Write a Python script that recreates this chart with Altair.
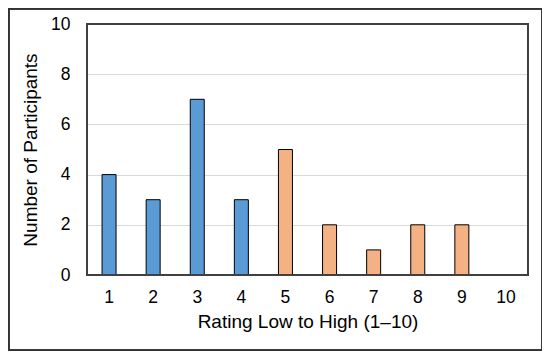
import altair as alt
import pandas as pd

ratings = ["1", "2", "3", "4", "5", "6", "7", "8", "9", "10"]
counts = [4, 3, 7, 3, 5, 2, 1, 2, 2, 0]
groups = ["low", "low", "low", "low", "high", "high", "high", "high", "high", "high"]

df = pd.DataFrame({"rating": ratings, "count": counts, "group": groups})

W, H = 441, 251
FONT = "Liberation Sans"

bars = alt.Chart(df).transform_filter("datum.count > 0").mark_bar(
    size=14, stroke="#000000", strokeWidth=1
).encode(
    x=alt.X("rating:O", sort=ratings, title="Rating Low to High (1\u201310)",
            axis=alt.Axis(labelAngle=0, ticks=False, domain=False, labelPadding=13,
                          titlePadding=7, labelFontSize=17.5, titleFontSize=19,
                          labelFont=FONT, titleFont=FONT,
                          labelColor="#000000", titleColor="#000000", titleFontWeight="normal"),
            scale=alt.Scale(domain=ratings, paddingInner=0.68, paddingOuter=0.34)),
    y=alt.Y("count:Q", title="Number of Participants",
            scale=alt.Scale(domain=[0, 10], nice=False),
            axis=alt.Axis(values=[0, 2, 4, 6, 8, 10], ticks=False, domain=False,
                          labelPadding=17, titlePadding=10, labelFontSize=17.5, titleFontSize=19,
                          labelFont=FONT, titleFont=FONT,
                          labelColor="#000000", titleColor="#000000", titleFontWeight="normal",
                          gridColor="#d9d9d9", gridWidth=1)),
    color=alt.Color("group:N", scale=alt.Scale(domain=["low", "high"], range=["#5b9bd5", "#f4b183"]),
                    legend=None),
)

plot_border = alt.Chart(df).mark_rect(fill=None, stroke="#404040", strokeWidth=1.6, clip=False).encode(
    x=alt.value(0), x2=alt.value(W), y=alt.value(0), y2=alt.value(H)
)

frame = alt.Chart(df).mark_rect(fill=None, stroke="#333333", strokeWidth=1.5, clip=False).encode(
    x=alt.value(-78.5), x2=alt.value(455.5), y=alt.value(-15.5), y2=alt.value(326.5)
)

chart = alt.layer(bars, plot_border, frame).properties(
    width=W, height=H,
    autosize=alt.AutoSizeParams(type="none"),
    padding={"left": 79, "top": 16, "right": 14, "bottom": 76},
    background="white",
).configure_view(stroke=None)

chart.save("out.html", embed_options={"renderer": "svg", "actions": False})
